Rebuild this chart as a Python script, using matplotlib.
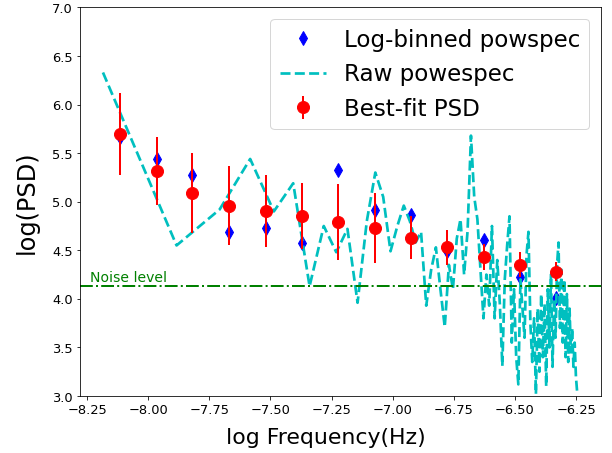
import numpy as np
import matplotlib
matplotlib.use("Agg")
import matplotlib.pyplot as plt

# ---- data ----
# raw periodogram: harmonics k = 1..N of the lowest frequency
raw_log_fmin = -8.185
raw_harmonic = np.arange(1, 88)
raw_log_psd = [
    6.33, 4.55, 4.92, 5.44, 4.90, 5.19, 4.13, 4.75, 4.48, 4.72,
    3.96, 4.80, 5.30, 5.05, 4.49, 4.75, 4.96, 4.80, 4.58, 4.69,
    3.93, 4.30, 4.53, 4.10, 3.71, 4.35, 4.10, 4.62, 4.82, 4.25,
    4.70, 5.68, 5.05, 4.82, 4.30, 3.80, 4.25, 3.93, 4.75, 3.80,
    4.40, 3.95, 3.31, 4.20, 4.55, 4.85, 3.55, 4.10, 3.40, 3.12,
    4.20, 3.90, 3.60, 4.45, 4.69, 3.75, 3.35, 3.80, 3.02, 3.90,
    3.25, 4.05, 3.40, 3.95, 3.10, 4.10, 3.50, 4.25, 3.30, 4.00,
    3.60, 4.35, 4.58, 3.70, 4.30, 3.55, 4.20, 3.40, 4.05, 3.35,
    3.90, 3.45, 3.70, 3.30, 3.55, 3.20, 3.04,
]

bin_log_freq = [-8.115, -7.966, -7.819, -7.669, -7.519, -7.371, -7.223,
                -7.074, -6.925, -6.778, -6.628, -6.480, -6.330]
binned_log_psd = [5.67, 5.44, 5.27, 4.69, 4.73, 4.58, 5.33,
                  4.91, 4.86, 4.49, 4.61, 4.23, 4.01]
fit_log_psd = [5.70, 5.32, 5.09, 4.96, 4.90, 4.85, 4.79,
               4.73, 4.63, 4.53, 4.43, 4.35, 4.28]
fit_err = [0.42, 0.35, 0.41, 0.41, 0.37, 0.34, 0.39,
           0.36, 0.22, 0.18, 0.13, 0.13, 0.10]
noise_level = 4.13

raw_log_freq = np.log10(raw_harmonic) + raw_log_fmin

fig = plt.figure(figsize=(8.5, 6.3), dpi=72)
ax = fig.add_axes([0.1307, 0.1256, 0.982 - 0.1307, 0.9824 - 0.1256])

ax.plot(bin_log_freq, binned_log_psd, 'bd', markersize=10,
        label='Log-binned powspec')
ax.plot(raw_log_freq, raw_log_psd, 'c--', linewidth=2.7,
        label='Raw powespec')
ax.errorbar(bin_log_freq, fit_log_psd, yerr=fit_err, fmt='ro',
            markersize=12, elinewidth=2, label='Best-fit PSD')
ax.axhline(noise_level, color='g', linestyle='-.', linewidth=2)
ax.text(-8.24, noise_level + 0.05, 'Noise level', color='g', fontsize=14)

ax.set_ylim(3.0, 7.0)
ax.set_xlim(-8.279, -6.148)
ax.set_xticks([-8.25, -8.0, -7.75, -7.5, -7.25, -7.0, -6.75, -6.5, -6.25])
ax.tick_params(labelsize=13)
ax.set_xlabel('log Frequency(Hz)', fontsize=22)
ax.set_ylabel('log(PSD)', fontsize=24)
ax.xaxis.set_label_coords(0.471, -0.082)
ax.yaxis.set_label_coords(-0.102, 0.5)
ax.xaxis.label.set_verticalalignment('top')
ax.yaxis.label.set_verticalalignment('center')
ax.legend(loc='upper right', fontsize=23, numpoints=1)

fig.savefig('out.png', dpi=72)
